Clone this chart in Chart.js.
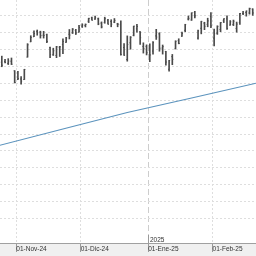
<!DOCTYPE html>
<html><head><meta charset="utf-8">
<script src="https://cdn.jsdelivr.net/npm/chart.js@4.4.1/dist/chart.umd.min.js"></script>
<style>html,body{margin:0;padding:0;background:#fff;overflow:hidden}#wrap{width:256px;height:256px;position:relative}canvas{display:block}</style>
</head><body><div id="wrap"><canvas id="c" width="256" height="256" style="width:256px;height:256px"></canvas></div>
<script>
// ---- data ----
// trading sessions on the (session-indexed) time axis
const sessions = ['2024-10-24','2024-10-25','2024-10-28','2024-10-29','2024-10-30','2024-10-31','2024-11-01','2024-11-04','2024-11-05','2024-11-06','2024-11-07','2024-11-08','2024-11-11','2024-11-12','2024-11-13','2024-11-14','2024-11-15','2024-11-18','2024-11-19','2024-11-20','2024-11-21','2024-11-22','2024-11-25','2024-11-26','2024-11-27','2024-11-29','2024-12-02','2024-12-03','2024-12-04','2024-12-05','2024-12-06','2024-12-09','2024-12-10','2024-12-11','2024-12-12','2024-12-13','2024-12-16','2024-12-17','2024-12-18','2024-12-19','2024-12-20','2024-12-23','2024-12-24','2024-12-26','2024-12-27','2024-12-30','2024-12-31','2025-01-02','2025-01-03','2025-01-06','2025-01-07','2025-01-08','2025-01-10','2025-01-13','2025-01-14','2025-01-15','2025-01-16','2025-01-17','2025-01-21','2025-01-22','2025-01-23','2025-01-24','2025-01-27','2025-01-28','2025-01-29','2025-01-30','2025-01-31','2025-02-03','2025-02-04','2025-02-05','2025-02-06','2025-02-07','2025-02-10','2025-02-11','2025-02-12','2025-02-13','2025-02-14','2025-02-18','2025-02-19','2025-02-20','2025-02-21'];
// OHLC of the visible sessions (first 80 sessions)
const opens  = [5830,5826,5830,5819,5832,5775,5723,5726,5723,5856,5947,5977,6009,6004,5986,5990,5912,5870,5866,5915,5931,5944,5992,6001,6015,6004,6040,6043,6069,6089,6082,6083,6058,6061,6075,6068,6064,6053,6048,5913,5842,5941,5985,6024,6006,5920,5920,5903,5892,5982,5994,5910,5890,5784,5859,5905,5954,5980,6015,6082,6076,6121,5969,6027,6058,6050,6097,5969,5998,6020,6072,6083,6046,6049,6026,6061,6115,6121,6118,6141];
const highs  = [5842,5862,5843,5847,5851,5776,5772,5741,5784,5936,5983,6012,6017,6010,6009,5993,5915,5909,5920,5920,5965,5973,6020,6026,6021,6044,6054,6053,6087,6093,6099,6088,6065,6093,6080,6078,6085,6057,6071,5936,5982,5978,6040,6050,6007,5941,5929,5935,5949,6021,6001,5928,5891,5837,5872,5953,5965,6004,6051,6100,6119,6128,6017,6069,6063,6087,6121,6022,6042,6062,6084,6101,6073,6076,6064,6116,6128,6130,6147,6143];
const lows   = [5796,5799,5822,5812,5812,5703,5723,5696,5723,5856,5947,5977,5986,5969,5969,5942,5853,5866,5853,5860,5877,5944,5964,5996,5990,6004,6032,6035,6061,6075,6079,6048,6029,6057,6051,6036,6060,6036,5867,5866,5832,5903,5982,6004,5932,5880,5869,5829,5874,5961,5891,5874,5809,5773,5811,5905,5935,5979,6007,6076,6074,6089,5962,5994,6019,6036,6031,5923,5991,6007,6061,6020,6045,6043,6004,6050,6108,6099,6111,6104];
const closes = [5810,5808,5824,5833,5814,5705,5729,5713,5783,5929,5973,5996,6001,5984,5985,5949,5871,5894,5917,5917,5949,5969,5987,6022,5999,6032,6047,6050,6086,6075,6090,6053,6035,6084,6051,6051,6074,6051,5872,5867,5931,5974,6040,6038,5971,5907,5882,5869,5942,5975,5909,5918,5827,5836,5843,5950,5937,5997,6049,6086,6119,6101,6012,6068,6039,6071,6041,5995,6038,6061,6084,6026,6066,6069,6052,6115,6115,6130,6144,6118];
// long moving-average line
const avgDates  = ['2024-10-24','2024-11-21','2024-12-20','2025-01-23','2025-02-21'];
const avgValues = [5331,5430,5528,5614,5701];
const gridValues = [6100,6000,5900,5800,5700,5600,5500,5400,5300,5200,5100,5000,4900];
// month ticks sit at the start of the first session of each month
const tickDates  = ['2024-11-01','2024-12-02','2025-01-02','2025-02-03'];
const tickLabels = ['01-Nov-24','01-Dic-24','01-Ene-25','01-Feb-25'];
const yearMarkDate = '2025-01-02';
const yearMarkLabel = '2025';

// ---- helpers ----
const idx = s => sessions.indexOf(s);
const X0 = 0.436, X1 = 80.014;             // visible session range
const barData   = opens.map((o,i) => ({x: i, y: [lows[i], highs[i]]}));
const openData  = opens.map((o,i) => ({x: i, y: o}));
const closeData = closes.map((c,i) => ({x: i, y: c}));
const avgData   = avgDates.map((d,i) => ({x: idx(d), y: avgValues[i]}));
const tickVals  = tickDates.map(d => idx(d) - 0.5);
const yearVal   = idx(yearMarkDate) - 0.5;

const bandPlugin = {
  id: 'band',
  beforeDraw(chart) {
    const {ctx, chartArea, width, height} = chart;
    ctx.save();
    ctx.fillStyle = '#f0f0f0';
    ctx.fillRect(0, chartArea.bottom, width, height - chartArea.bottom);
    ctx.restore();
  },
  afterDraw(chart) {
    const {ctx, chartArea} = chart;
    const xs = chart.scales.x.getPixelForValue(yearVal);
    const px = Math.round(xs) + 0.5;
    ctx.save();
    ctx.strokeStyle = '#999';
    ctx.lineWidth = 1;
    ctx.beginPath(); ctx.moveTo(px, chartArea.bottom - 8); ctx.lineTo(px, chartArea.bottom); ctx.stroke();
    ctx.fillStyle = '#333';
    ctx.font = '6.5px "Liberation Sans", Arial, sans-serif';
    ctx.textAlign = 'left';
    ctx.textBaseline = 'alphabetic';
    ctx.fillText(yearMarkLabel, px + 1.5, chartArea.bottom - 1.5);
    ctx.restore();
  }
};

const noPad = s => { s.paddingLeft = 0; s.paddingRight = 0; s.paddingTop = 0; s.paddingBottom = 0; };
const isYear = ctx => ctx.tick && Math.abs(ctx.tick.value - yearVal) < 1e-6;

new Chart(document.getElementById('c'), {
  data: {
    datasets: [
      {type: 'line', data: avgData, borderColor: '#5b93bd', borderWidth: 1.1, pointRadius: 0, pointHoverRadius: 0, tension: 0, order: 3},
      {type: 'bar', data: barData, backgroundColor: '#4a4a4a', barThickness: 1, order: 2},
      {type: 'scatter', data: openData, pointStyle: 'dash', rotation: 180, radius: 1, hoverRadius: 0, borderColor: '#4a4a4a', borderWidth: 1, order: 1},
      {type: 'scatter', data: closeData, pointStyle: 'dash', rotation: 0, radius: 1, hoverRadius: 0, borderColor: '#4a4a4a', borderWidth: 1, order: 1}
    ]
  },
  options: {
    responsive: false,
    animation: false,
    devicePixelRatio: 1,
    layout: {padding: 0, autoPadding: false},
    plugins: {legend: {display: false}, tooltip: {enabled: false}},
    scales: {
      x: {
        type: 'linear', min: X0, max: X1, offset: false,
        afterBuildTicks: s => { s.ticks = tickVals.map(v => ({value: v})); },
        afterFit: s => { s.height = 13; noPad(s); },
        ticks: {
          autoSkip: false, maxRotation: 0, align: 'start', padding: -7,
          color: '#333', font: {family: '"Liberation Sans", Arial, sans-serif', size: 6.5},
          callback: (v, i) => tickLabels[i]
        },
        grid: {
          offset: false,
          color: ctx => isYear(ctx) ? '#cdcdcd' : '#dedede',
          tickColor: '#999', tickLength: 9, tickBorderDash: [], lineWidth: 1
        },
        border: {display: true, color: '#a0a0a0', width: 1,
                 dash: ctx => isYear(ctx) ? [6, 3] : [2, 2]}
      },
      y: {
        type: 'linear', min: 4753.6, max: 6194.9, position: 'left',
        afterBuildTicks: s => { s.ticks = gridValues.map(v => ({value: v})); },
        afterFit: s => { s.width = 0; noPad(s); },
        ticks: {display: false},
        grid: {color: '#dedede', drawTicks: false, lineWidth: 1},
        border: {display: false, dash: [2, 2]}
      }
    }
  },
  plugins: [bandPlugin]
});
</script>
</body></html>
